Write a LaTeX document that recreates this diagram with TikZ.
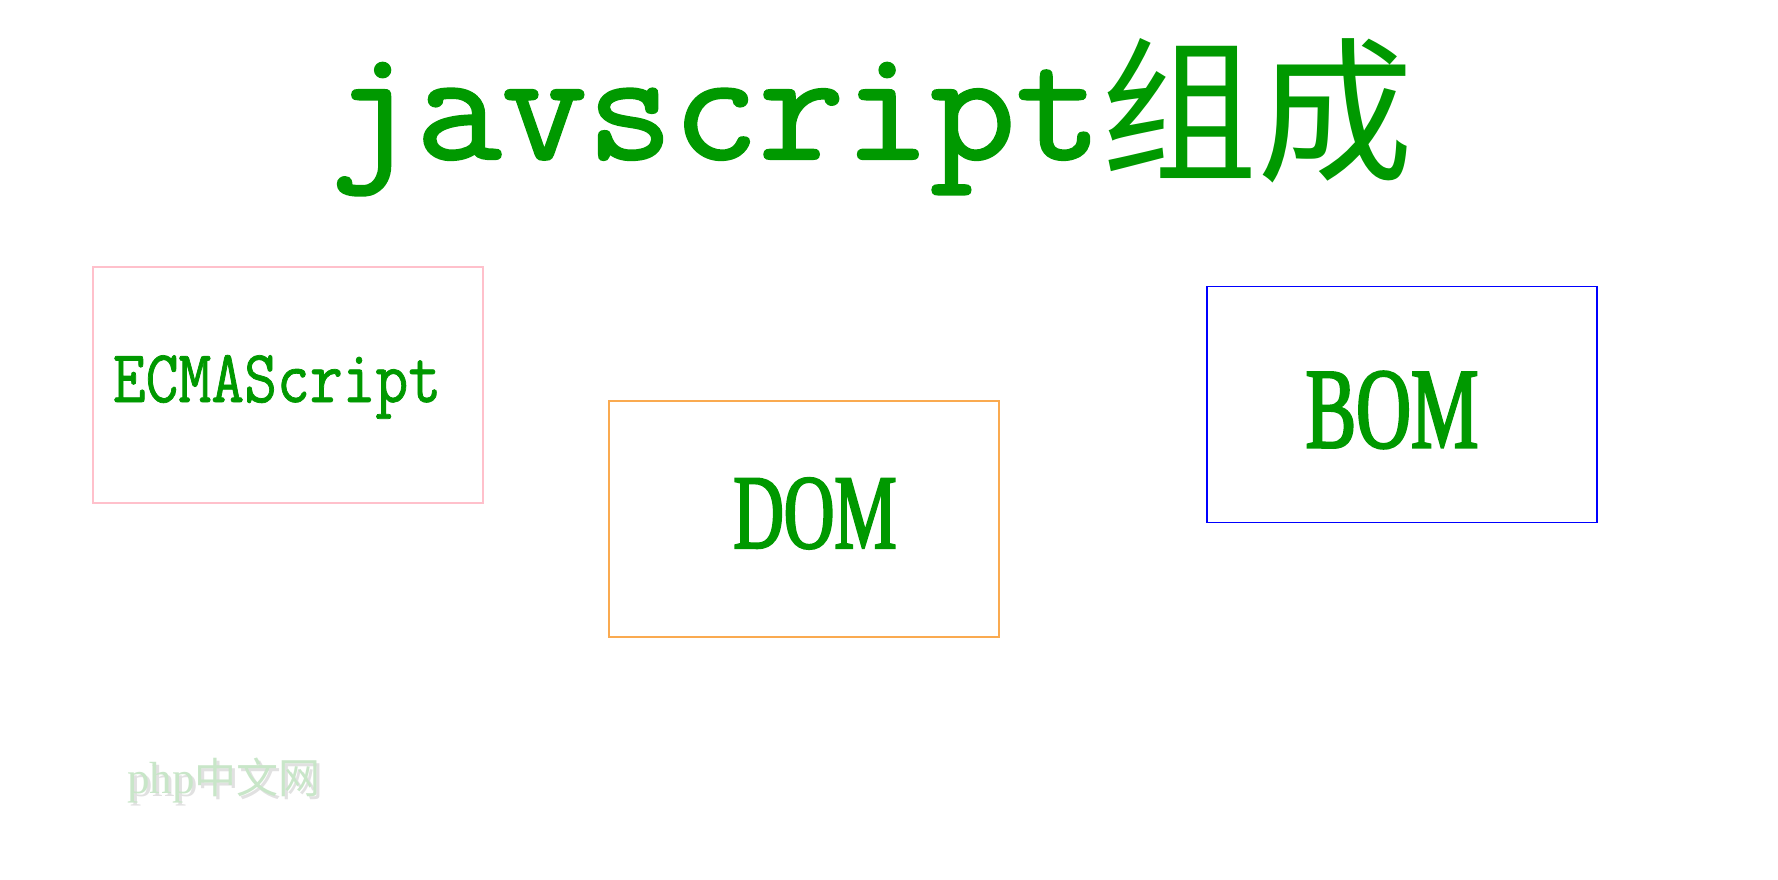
\documentclass[tikz,border=0pt]{standalone}
\usepackage{fontspec}
\usepackage{tikz}
\setmainfont{Liberation Serif}
\newfontfamily\titlefont[FakeStretch=1.04, FakeBold=1.5]{Latin Modern Mono}
\newfontfamily\cjkfont{Noto Sans CJK SC}
\newfontfamily\ecmafont[FakeStretch=0.85, FakeBold=1]{Latin Modern Mono}
\newfontfamily\narrowfont[FakeStretch=0.66, FakeBold=2]{Liberation Serif}
\definecolor{jsgreen}{RGB}{0,153,0}
\definecolor{boxpink}{RGB}{255,192,203}
\definecolor{boxorange}{RGB}{250,170,80}
\definecolor{boxblue}{RGB}{0,0,255}
\definecolor{markgreen}{RGB}{200,230,200}
\definecolor{markshade}{RGB}{225,225,225}
\tikzset{
  partbox/.style = {rectangle, line width=1.2pt, inner sep=0pt, minimum width=390pt, minimum height=236pt},
  ecmabox/.style = {partbox, draw=boxpink},
  dombox/.style = {partbox, draw=boxorange},
  bombox/.style = {partbox, draw=boxblue},
  parttext/.style = {anchor=base, inner sep=0pt, text=jsgreen},
  heading/.style = {anchor=base west, inner sep=0pt, text=jsgreen},
  watermark/.style = {anchor=base west, inner sep=0pt, font=\fontsize{45}{45}\selectfont},
}
\begin{document}
\begin{tikzpicture}[x=1pt, y=-1pt]
\useasboundingbox (0,0) rectangle (1778,880);
\node [heading] (title) at (330,159) {\titlefont\fontsize{160}{160}\selectfont javscript\cjkfont\fontsize{156}{156}\selectfont\raisebox{-10pt}{组成}};
\node [ecmabox] (ecma) at (288,385) {};
\node [dombox] (dom) at (804,519) {};
\node [bombox] (bom) at (1402,404.5) {};
\node [parttext, font=\ecmafont\fontsize{75}{75}\selectfont] (ecmaname) at ([shift={(-11,17)}]ecma.center) {ECMAScript};
\node [parttext, font=\narrowfont\fontsize{106}{106}\selectfont] (domname) at ([shift={(11,29)}]dom.center) {DOM};
\node [parttext, font=\narrowfont\fontsize{115}{115}\selectfont] (bomname) at ([shift={(-10,43)}]bom.center) {BOM};
\node [watermark, text=markshade] (shade) at (130,796) {php{\cjkfont\fontsize{42}{42}\selectfont 中文网}};
\node [watermark, text=markgreen] (site) at (127,793) {php{\cjkfont\fontsize{42}{42}\selectfont 中文网}};
\end{tikzpicture}
\end{document}
